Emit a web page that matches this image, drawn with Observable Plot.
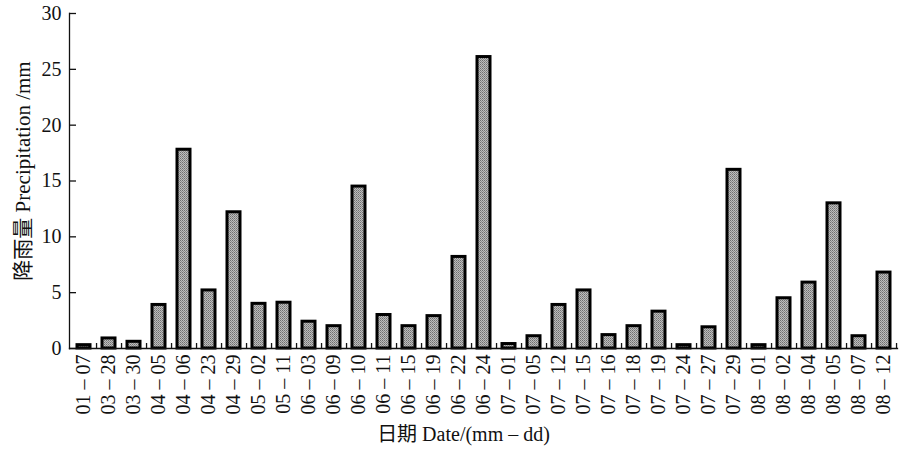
<!DOCTYPE html>
<html><head><meta charset="utf-8">
<script src="https://cdn.jsdelivr.net/npm/d3@7"></script>
<script src="https://cdn.jsdelivr.net/npm/@observablehq/plot@0.6"></script>
<style>body{margin:0;background:#fff}</style>
</head><body><div id="chart"></div>
<script>
const dates = ["01-07","03-28","03-30","04-05","04-06","04-23","04-29","05-02","05-11","06-03","06-09","06-10","06-11","06-15","06-19","06-22","06-24","07-01","07-05","07-12","07-15","07-16","07-18","07-19","07-24","07-27","07-29","08-01","08-02","08-04","08-05","08-07","08-12"];
const precip = [0.3,0.9,0.6,3.9,17.8,5.2,12.2,4.0,4.1,2.4,2.0,14.5,3.0,2.0,2.9,8.2,26.1,0.4,1.1,3.9,5.2,1.2,2.0,3.3,0.3,1.9,16.0,0.3,4.5,5.9,13.0,1.1,6.8];
const yTicks = [0,5,10,15,20,25,30];
const yLabel = "降雨量 Precipitation /mm";
const xLabel = "日期 Date/(mm \u2013 dd)";

const data = dates.map((d, i) => ({date: d, value: precip[i]}));
const W = 899, H = 452, ML = 69, MR = 2, MT = 13, MB = 104;
const step = (W - ML - MR) / dates.length;
const font = "'Liberation Serif','Noto Sans CJK SC',serif";

const plot = Plot.plot({
  width: W, height: H,
  marginLeft: ML, marginRight: MR, marginTop: MT, marginBottom: MB,
  style: {fontFamily: font, fontSize: "20px", color: "#111", background: "#fff", overflow: "visible"},
  x: {type: "band", domain: dates, padding: 0},
  y: {domain: [0, 30]},
  marks: [
    Plot.barY(data, {x: "date", y: "value", fill: "url(#stipple)", stroke: "#000", strokeWidth: 3, insetLeft: 6, insetRight: 6}),
    Plot.frame({anchor: "left", stroke: "#111", strokeWidth: 1.3}),
    Plot.frame({anchor: "bottom", stroke: "#111", strokeWidth: 1.3}),
    Plot.axisY({ticks: yTicks, tickSize: 0, tickPadding: 8, label: null, fontSize: 20}),
    Plot.axisY({ticks: yTicks, tickSize: 7, text: null, dx: 7, label: null, strokeWidth: 1.3}),
    Plot.axisX({tickSize: 0, tickPadding: 6, tickRotate: -90, tickFormat: d => d.replace("-", " \u2013 "), label: null, fontSize: 20}),
    Plot.axisX({tickSize: 5, text: null, dy: -5, dx: step / 2, label: null, strokeWidth: 1.3}),
    Plot.text([yLabel], {frameAnchor: "left", rotate: -90, dx: -46, dy: -10, fontSize: 21, fill: "#111", textAnchor: "middle", lineAnchor: "middle"}),
    Plot.text([xLabel], {frameAnchor: "bottom", dx: -20, dy: 86, fontSize: 20, fill: "#111", textAnchor: "middle", lineAnchor: "middle"})
  ]
});
const ns = "http://www.w3.org/2000/svg";
const defs = document.createElementNS(ns, "defs");
defs.innerHTML = '<pattern id="stipple" width="2" height="2" patternUnits="userSpaceOnUse">' +
  '<rect width="2" height="2" fill="#bdbdbd"/><rect width="1" height="1" fill="#6f6f6f"/><rect x="1" y="1" width="1" height="1" fill="#8a8a8a"/></pattern>';
plot.insertBefore(defs, plot.firstChild);
document.getElementById("chart").append(plot);
</script>
</body></html>
